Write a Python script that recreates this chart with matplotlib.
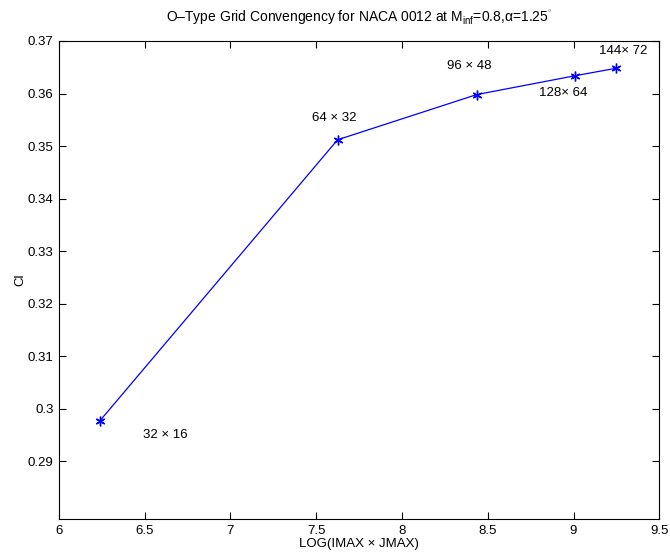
import matplotlib
matplotlib.use("Agg")
import matplotlib.pyplot as plt
import numpy as np

plt.rcParams['font.family'] = ['Liberation Sans', 'DejaVu Sans']
plt.rcParams['mathtext.fontset'] = 'custom'
plt.rcParams['mathtext.rm'] = 'Liberation Sans'
plt.rcParams['mathtext.it'] = 'Liberation Sans:italic'

# grid sizes and lift coefficient
imax = np.array([32, 64, 96, 128, 144])
jmax = np.array([16, 32, 48, 64, 72])
cl = [0.2977, 0.3512, 0.3598, 0.3634, 0.3648]
grid_labels = ['32 × 16', '64 × 32', '96 × 48', '128× 64', '144× 72']
label_x = [6.62, 7.605, 8.39, 8.94, 9.29]
label_y = [0.2951, 0.3553, 0.3652, 0.3601, 0.3681]

logn = np.log(imax * jmax)

fig = plt.figure(figsize=(6.7, 5.54), dpi=100)
ax = fig.add_axes([0.088, 0.063, 0.896, 0.863])

ax.plot(logn, cl, '-', color='blue', lw=0.9)
ax.plot(logn, cl, ls='none', marker=(6, 2, 0), color='blue', ms=7, mew=1.0)

for x, y, s in zip(label_x, label_y, grid_labels):
    ax.text(x, y, s, ha='center', va='center', fontsize=9.5)

ax.set_xlim(6, 9.5)
ax.set_ylim(0.279, 0.37)
ax.set_xticks(np.arange(6, 9.51, 0.5))
ax.set_xticklabels(['6', '6.5', '7', '7.5', '8', '8.5', '9', '9.5'])
ax.set_yticks(np.arange(0.29, 0.3701, 0.01))
ax.set_yticklabels(['0.29', '0.3', '0.31', '0.32', '0.33', '0.34', '0.35', '0.36', '0.37'])
ax.tick_params(direction='in', top=True, right=True, labelsize=9.5, length=5, pad=4)

ax.set_xlabel('LOG(IMAX × JMAX)', fontsize=9.5, labelpad=1)
ax.set_ylabel('Cl', fontsize=9.5, labelpad=1)
ax.set_title(r'O–Type Grid Convengency for NACA 0012 at M$_{\mathrm{inf}}$=0.8,α=1.25$^{^{\circ}}$',
             fontsize=10, pad=14)

fig.savefig('out.png', dpi=100)
